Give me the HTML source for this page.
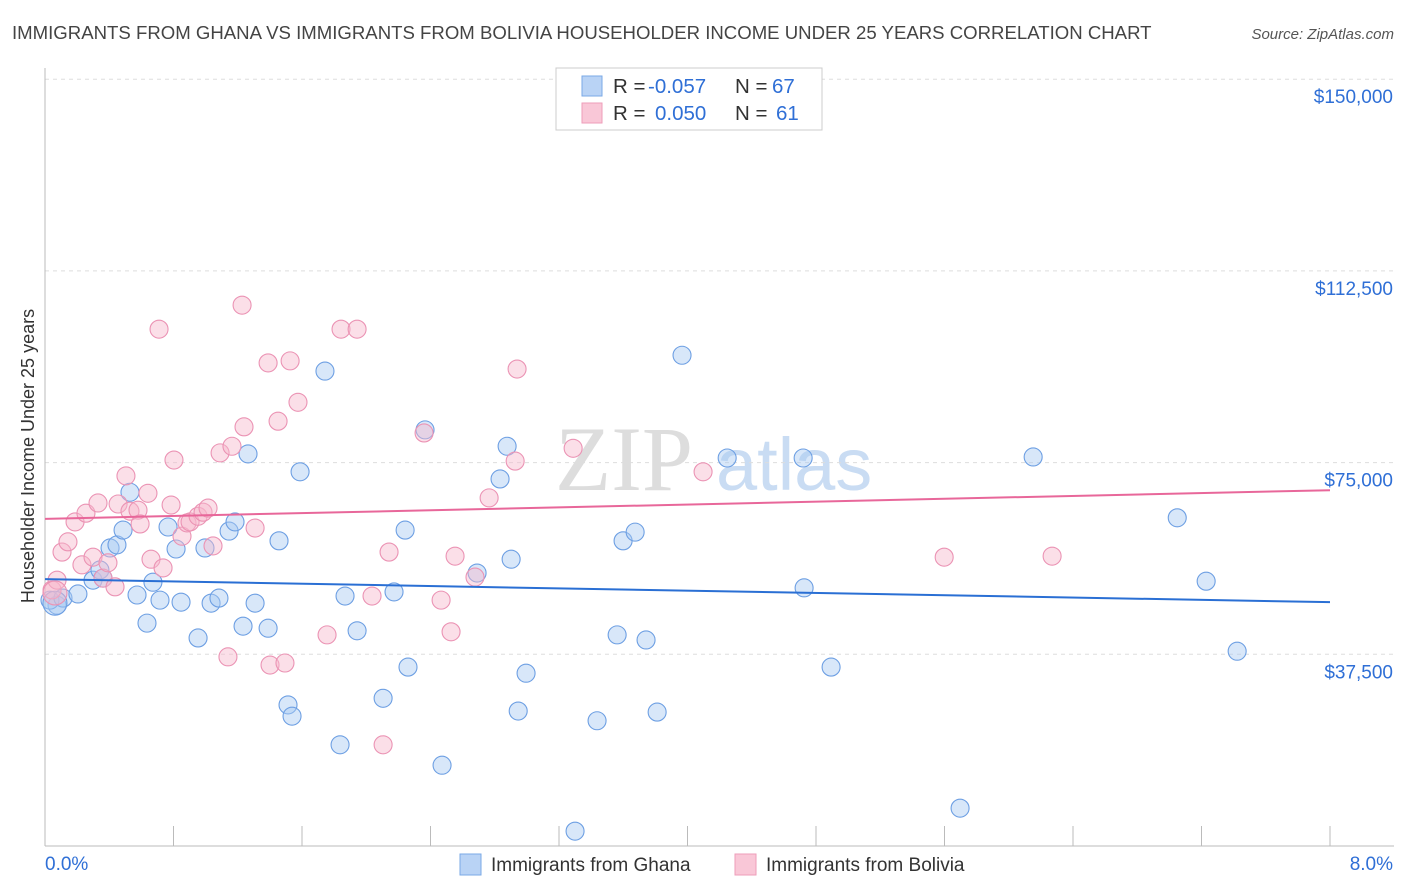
<!DOCTYPE html>
<html><head><meta charset="utf-8"><style>
body{margin:0;background:#fff;font-family:"Liberation Sans",sans-serif;}
svg{display:block}
</style></head><body>
<svg id="chart" width="1406" height="892" xmlns="http://www.w3.org/2000/svg">
<text x="12" y="39" font-size="18.6" fill="#444">IMMIGRANTS FROM GHANA VS IMMIGRANTS FROM BOLIVIA HOUSEHOLDER INCOME UNDER 25 YEARS CORRELATION CHART</text>
<text x="1394" y="39" font-size="15" fill="#555" font-style="italic" text-anchor="end">Source: ZipAtlas.com</text>
<text transform="translate(34,456) rotate(-90)" font-size="18" fill="#333" text-anchor="middle">Householder Income Under 25 years</text>
<g><text x="555" y="490" font-size="92" fill="#ddd" font-family="Liberation Serif">ZIP</text><text x="716" y="490" font-size="74" fill="#c9dcf3">atlas</text></g>
<g id="grid"></g><g id="axes"></g><g id="lines"></g><g id="pts"></g>
<g>
<rect x="556" y="68" width="266" height="62" fill="#fff" stroke="#ccc"/>
<rect x="582" y="76" width="20" height="20" fill="#b9d3f5" stroke="#7aa8e6"/>
<rect x="582" y="103" width="20" height="20" fill="#f9c7d7" stroke="#ee9dba"/>
<g font-size="20.5" fill="#333">
<text x="613" y="93">R =</text>
<text x="648" y="93" fill="#2f6fd6">-0.057</text>
<text x="735" y="93">N =</text>
<text x="772" y="93" fill="#2f6fd6">67</text>
<text x="613" y="120">R =</text>
<text x="655" y="120" fill="#2f6fd6">0.050</text>
<text x="735" y="120">N =</text>
<text x="776" y="120" fill="#2f6fd6">61</text>
</g>
</g>
<g>
<rect x="460" y="854" width="21" height="21" fill="#b9d3f5" stroke="#7aa8e6"/>
<text x="491" y="871" font-size="19" fill="#333">Immigrants from Ghana</text>
<rect x="735" y="854" width="21" height="21" fill="#f9c7d7" stroke="#ee9dba"/>
<text x="766" y="871" font-size="19" fill="#333">Immigrants from Bolivia</text>
</g>
</svg>
<script>
const yTicks=[37.5,75,112.5,150];
const yTickLabels=["$37,500","$75,000","$112,500","$150,000"];
const xTickLabels=["0.0%","8.0%"];
const ghanaX=[0.075,0.031,0.112,0.205,0.299,0.342,0.361,0.405,0.448,0.486,0.529,0.573,0.635,0.672,0.716,0.766,0.816,0.847,0.953,0.996,1.034,1.083,1.146,1.183,1.233,1.264,1.308,1.389,1.457,1.513,1.538,1.588,1.743,1.837,1.868,1.943,2.105,2.173,2.242,2.260,2.366,2.472,2.690,2.833,2.877,2.902,2.946,2.995,3.300,3.437,3.562,3.599,3.674,3.742,3.811,3.966,4.247,4.720,4.726,4.894,5.697,6.152,7.049,7.229,7.422,0.062];
const ghanaY=[47.1,48.1,48.5,49.3,52.0,54.0,52.4,58.3,58.9,61.8,69.2,49.1,43.6,51.6,48.1,62.4,58.1,47.7,40.7,58.3,47.5,48.5,61.6,63.4,43.0,76.7,47.5,42.6,59.7,27.6,25.4,73.2,92.9,19.8,48.9,42.1,28.9,49.7,61.8,35.0,81.4,15.8,53.4,71.8,78.2,56.1,26.4,33.8,2.9,24.5,41.3,59.7,61.4,40.3,26.2,96.0,75.9,75.9,50.5,35.0,7.4,76.1,64.2,51.8,38.1,47.5];
const boliviaX=[0.044,0.075,0.106,0.143,0.187,0.230,0.255,0.299,0.330,0.361,0.392,0.436,0.455,0.504,0.529,0.579,0.592,0.641,0.660,0.710,0.735,0.785,0.803,0.853,0.884,0.903,0.953,0.984,1.015,1.046,1.090,1.139,1.164,1.227,1.239,1.308,1.389,1.401,1.451,1.494,1.526,1.575,1.756,1.843,1.943,2.036,2.105,2.142,2.360,2.466,2.528,2.553,2.677,2.765,2.927,2.939,3.288,4.097,5.598,6.270,0.062];
const boliviaY=[50.1,52.0,57.5,59.5,63.4,55.0,65.1,56.5,67.1,52.4,55.4,50.7,66.9,72.4,65.5,65.7,63.0,69.0,56.1,101.1,54.4,66.7,75.5,60.6,63.2,63.4,64.5,65.3,66.1,58.7,76.9,37.0,78.2,105.8,82.0,62.2,94.5,35.4,83.1,35.8,94.9,86.8,41.3,101.1,101.1,48.9,19.8,57.5,80.8,48.1,41.9,56.7,52.6,68.1,75.3,93.3,77.8,73.2,56.5,56.7,49.5];
const ghanaTrend=[52.2,47.7];
const boliviaTrend=[64.0,69.6];
const NS="http://www.w3.org/2000/svg";
const X=v=>45+v/8*1285, Y=v=>846-v/37.5*191.7;
function mk(t,a,p){const e=document.createElementNS(NS,t);for(const k in a)e.setAttribute(k,a[k]);p.appendChild(e);return e;}
const gridG=document.getElementById('grid'),axesG=document.getElementById('axes');
yTicks.forEach((t,i)=>{
 const l=mk('line',{x1:45,x2:1394,y1:Y(t),y2:Y(t),stroke:'#ddd','stroke-dasharray':'4,4'},gridG);
 
 
 const tx=mk('text',{x:1393,y:Y(t)+24,'font-size':19,fill:'#2f6fd6','text-anchor':'end'},axesG);
 tx.textContent=yTickLabels[i];
 
 
});
const ya=mk('line',{x1:45,x2:45,y1:68,y2:846,stroke:'#bbb'},axesG);


const xa=mk('line',{x1:45,x2:1394,y1:846,y2:846,stroke:'#bbb'},axesG);


for(let i=1;i<=10;i++){const tk=mk('line',{x1:X(i*0.8),x2:X(i*0.8),y1:826,y2:846,stroke:'#bbb'},axesG);
 
 }
[[0,'start',45],[8,'end',1393]].forEach((d,i)=>{const t=mk('text',{x:d[2],y:870,'font-size':19,fill:'#2f6fd6','text-anchor':d[1]},axesG);t.textContent=xTickLabels[i];
 
 });
const ptsG=document.getElementById('pts');
function series(xs,ys,fill,stroke,name){xs.forEach((x,i)=>{const big=i===xs.length-1;
 const c=mk('circle',{cx:X(x),cy:Y(ys[i]),r:big?12:9,fill:fill,'fill-opacity':0.45,stroke:stroke,'stroke-width':1.1},ptsG);
 
 });}
series(ghanaX,ghanaY,'#a9c9f2','#6d9fe3','ghana-point');
series(boliviaX,boliviaY,'#f7b8cd','#eb93b4','bolivia-point');
const linesG=document.getElementById('lines');
const gl=mk('line',{x1:X(0),x2:X(8),y1:Y(ghanaTrend[0]),y2:Y(ghanaTrend[1]),stroke:'#2a6fd4','stroke-width':2},linesG);


const bl=mk('line',{x1:X(0),x2:X(8),y1:Y(boliviaTrend[0]),y2:Y(boliviaTrend[1]),stroke:'#e8679a','stroke-width':2},linesG);


document.getElementById('chart').appendChild(linesG);
</script>
</body></html>
